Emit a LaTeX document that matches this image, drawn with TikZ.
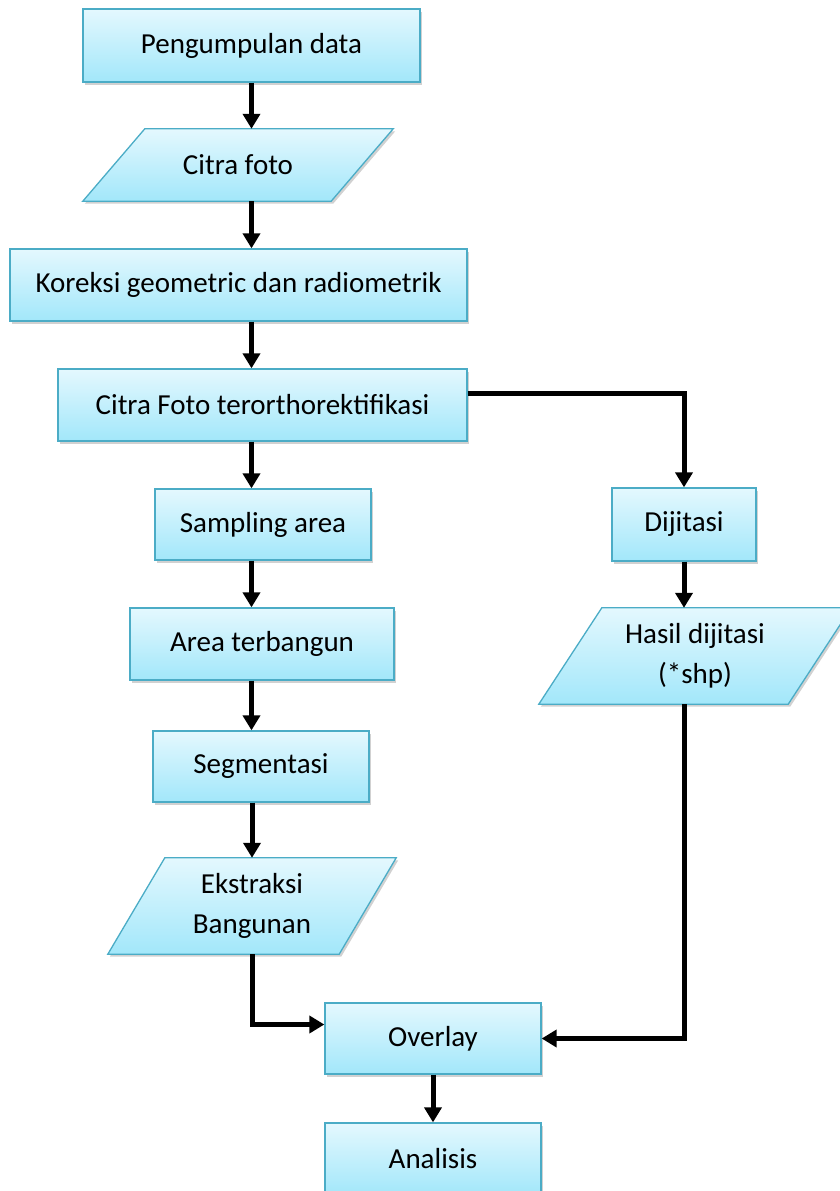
\documentclass[tikz,border=0pt]{standalone}
\usepackage{fontspec}
\setmainfont{Carlito}
\usepackage{tikz}
\usetikzlibrary{shadows,arrows.meta,backgrounds}
\definecolor{boxtop}{RGB}{228,248,254}
\definecolor{boxbot}{RGB}{162,231,250}
\definecolor{boxedge}{RGB}{75,172,198}

\begin{document}
\begin{tikzpicture}[x=1pt,y=-1pt,
  boxlook/.style={draw=boxedge, line width=1.3pt, top color=boxtop, bottom color=boxbot,
    drop shadow={shadow xshift=2pt, shadow yshift=-2.5pt, opacity=0.3, fill=black!60}},
  process/.style={rectangle, boxlook, font=\fontsize{29}{40}\selectfont, align=center, inner sep=0pt},
  data/.style={rectangle, font=\fontsize{29}{40}\selectfont, align=center, inner sep=0pt},
  >={Triangle[width=17pt,length=15pt]},
  flow/.style={->, line width=5pt}]

\useasboundingbox (0,0) rectangle (840,1191);

\node[process, minimum width=337, minimum height=73] (pd) at (251.5,45.5) {Pengumpulan data};
\node[data, minimum width=310, minimum height=72] (cf) at (238,165) {Citra foto};
\node[process, minimum width=457, minimum height=72] (kg) at (238.5,285) {Koreksi geometric dan radiometrik};
\node[process, minimum width=409, minimum height=72] (ct) at (262.5,405) {Citra Foto terorthorektifikasi};
\node[process, minimum width=216, minimum height=71] (sa) at (263,524.5) {Sampling area};
\node[process, minimum width=264, minimum height=72] (at) at (262,644) {Area terbangun};
\node[process, minimum width=216, minimum height=71] (sg) at (261,766.5) {Segmentasi};
\node[data, minimum width=288, minimum height=96] (ek) at (252,906) {Ekstraksi\\Bangunan};
\node[process, minimum width=216, minimum height=71] (ov) at (433,1038.5) {Overlay};
\node[process, minimum width=216, minimum height=72] (an) at (433,1159) {Analisis};

\node[process, minimum width=144, minimum height=73] (dj) at (684,524.5) {Dijitasi};
\node[data, minimum width=312, minimum height=96] (hd) at (695,656) {Hasil dijitasi\\(*shp)};

\begin{scope}[on background layer]
\foreach \n/\s in {cf/62, ek/57, hd/63}
  \path[boxlook] ([xshift=\s pt]\n.north west) -- (\n.north east)
    -- ([xshift=-\s pt]\n.south east) -- (\n.south west) -- cycle;
\end{scope}


\draw[flow] (pd.south) -- (pd.south |- cf.north);
\draw[flow] (cf.south -| pd.south) -- (kg.north -| pd.south);
\draw[flow] (kg.south -| pd.south) -- (ct.north -| pd.south);
\draw[flow] (ct.south -| pd.south) -- (sa.north -| pd.south);
\draw[flow] (sa.south -| pd.south) -- (at.north -| pd.south);
\draw[flow] (at.south -| pd.south) -- (sg.north -| pd.south);
\draw[flow] (sg.south -| ek.north) -- (ek.north);


\draw[flow] ([yshift=12pt]ct.east) -| (dj.north);
\draw[flow] (dj.south) -- (dj.south |- hd.north);


\draw[flow] (ek.south) |- ([yshift=14pt]ov.west);
\draw[flow] (hd.south -| dj.south) |- (ov.east);
\draw[flow] (ov.south) -- (an.north);

\end{tikzpicture}
\end{document}
